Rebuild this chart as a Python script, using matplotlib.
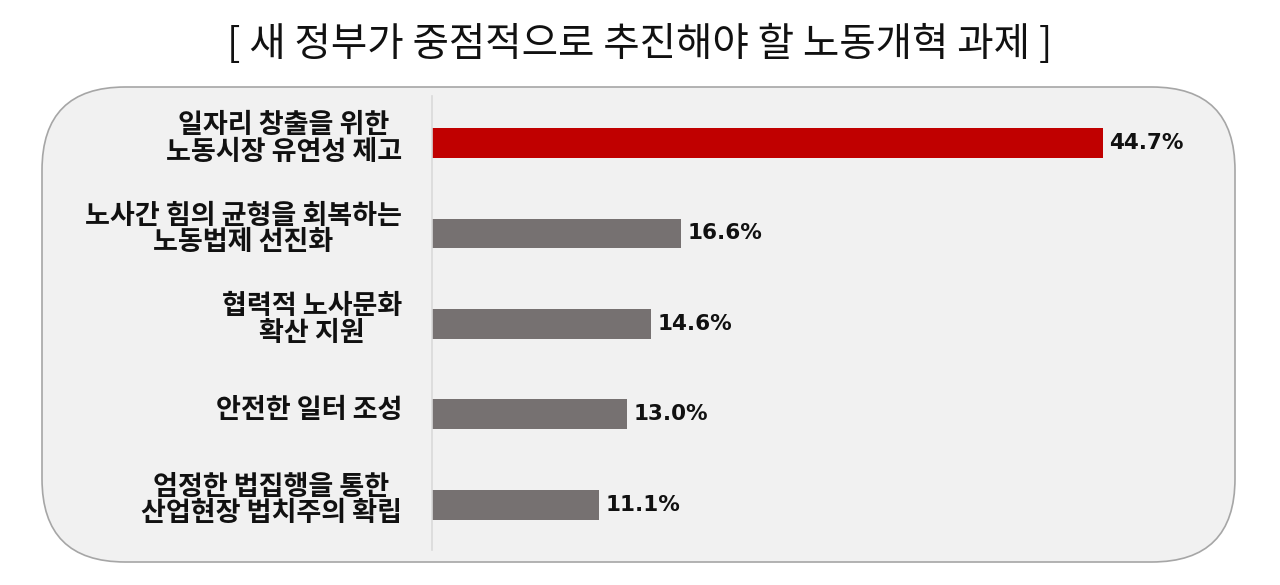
import matplotlib
matplotlib.use("Agg")
import matplotlib.pyplot as plt
from matplotlib.patches import FancyBboxPatch

plt.rcParams['font.family'] = ['Noto Sans CJK KR', 'DejaVu Sans']

# data
title = "[ 새 정부가 중점적으로 추진해야 할 노동개혁 과제 ]"
categories = [
    "일자리 창출을 위한\n노동시장 유연성 제고",
    "노사간 힘의 균형을 회복하는\n노동법제 선진화",
    "협력적 노사문화\n확산 지원",
    "안전한 일터 조성",
    "엄정한 법집행을 통한\n산업현장 법치주의 확립",
]
values = [44.7, 16.6, 14.6, 13.0, 11.1]
colors = ["#C00000", "#767171", "#767171", "#767171", "#767171"]

W, H = 1280, 585
fig = plt.figure(figsize=(W / 100, H / 100), dpi=100)

# rounded panel behind the chart
box = FancyBboxPatch((42 / W, (H - 562) / H), (1235 - 42) / W, (562 - 87) / H,
                     boxstyle="round,pad=0,rounding_size=0.065",
                     transform=fig.transFigure, facecolor="#F1F1F1",
                     edgecolor="#A6A6A6", linewidth=1.2,
                     mutation_aspect=W / H, zorder=-1)
fig.patches.append(box)

fig.text(0.5, (H - 45) / H, title, ha="center", va="center", fontsize=28.5,
         color="#111111")

ax = fig.add_axes([432 / W, (H - 550) / H, 800 / W, (550 - 96) / H])
ax.patch.set_alpha(0)
y = list(range(len(values)))
ax.barh(y, values, height=0.33, color=colors)
ax.set_xlim(0, 800 / 15)
ax.set_ylim(4.5, -0.52)
for s in ["top", "right", "bottom"]:
    ax.spines[s].set_visible(False)
ax.spines["left"].set_color("#D9D9D9")
ax.spines["left"].set_linewidth(1.2)
ax.set_xticks([])
ax.set_yticks([])

for i, (lab, v) in enumerate(zip(categories, values)):
    ax.text(-2.0, i - 0.05, lab, ha="right", va="center", multialignment="center",
            fontsize=19.5, fontweight="bold", color="#111111", linespacing=0.93)
    ax.text(v + 0.45, i, f"{v:.1f}%", ha="left", va="center",
            fontsize=15.5, fontweight="bold", color="#111111",
            family=["DejaVu Sans"])

fig.savefig("out.png", dpi=100)
